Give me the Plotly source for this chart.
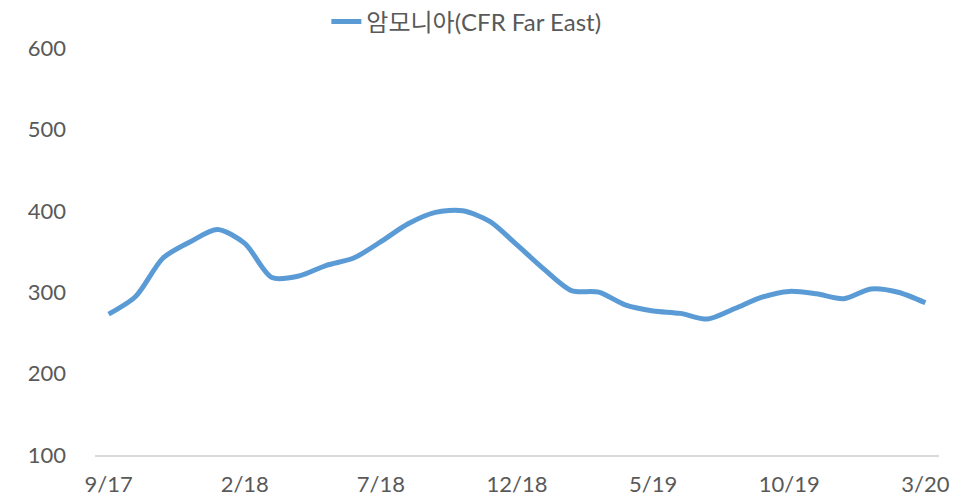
import plotly.graph_objects as go

# Monthly ammonia price (CFR Far East), 9/17 - 3/20
months = [
    '9/17', '10/17', '11/17', '12/17', '1/18', '2/18', '3/18', '4/18', '5/18', '6/18',
    '7/18', '8/18', '9/18', '10/18', '11/18', '12/18', '1/19', '2/19', '3/19', '4/19',
    '5/19', '6/19', '7/19', '8/19', '9/19', '10/19', '11/19', '12/19', '1/20', '2/20', '3/20',
]
prices = [
    273, 295, 342, 362, 377, 360, 318, 320, 333, 342,
    362, 384, 398, 400, 387, 358, 328, 302, 300, 284,
    277, 274, 267, 280, 294, 301, 298, 292, 304, 300, 287,
]
tick_labels = ['9/17', '2/18', '7/18', '12/18', '5/19', '10/19', '3/20']
series_name = '암모니아(CFR Far East)'

FONT = 'Lato, Noto Sans CJK KR, sans-serif'
GREY = '#595959'

fig = go.Figure()
fig.add_trace(go.Scatter(
    x=months,
    y=prices,
    mode='lines',
    name=series_name,
    line=dict(color='#5B9BD5', width=5, shape='spline', smoothing=0.8),
))

# page has an 8px body margin, so margins are shifted to keep the plot box in place
fig.update_layout(
    width=966,
    height=497,
    paper_bgcolor='white',
    plot_bgcolor='white',
    margin=dict(l=87, r=35, t=40, b=50, autoexpand=False),
    font=dict(family=FONT, size=22, color=GREY),
    showlegend=True,
    legend=dict(
        orientation='h',
        x=0.44,
        xanchor='center',
        y=1.064,
        yanchor='middle',
        font=dict(family=FONT, size=24, color=GREY),
    ),
    xaxis=dict(
        type='category',
        range=[-0.5, 30.5],
        tickmode='array',
        tickvals=tick_labels,
        ticktext=tick_labels,
        showgrid=False,
        showline=True,
        linecolor='#d9d9d9',
        linewidth=2,
        ticks='',
        ticklabelstandoff=9,
        tickangle=0,
    ),
    yaxis=dict(
        range=[100, 600],
        dtick=100,
        showgrid=False,
        zeroline=False,
        showline=False,
        ticks='',
        ticklabelstandoff=28,
    ),
)

fig.write_html("out.html")
